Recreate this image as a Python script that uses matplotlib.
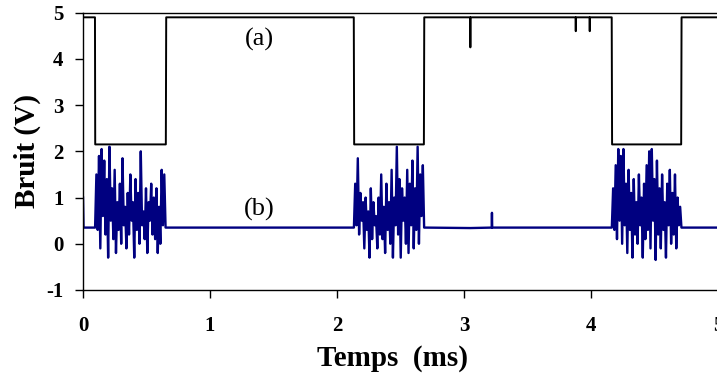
import numpy as np
import matplotlib
matplotlib.use("Agg")
import matplotlib.pyplot as plt

plt.rcParams['font.family'] = ['Liberation Serif', 'DejaVu Serif']
plt.rcParams['axes.unicode_minus'] = False

# ---- trace (a): square wave (time ms, volts)
a_t = [0.0, 0.094, 0.096, 0.652, 0.655, 2.132, 2.135, 2.684, 2.687, 3.048, 3.050, 3.052,
       3.878, 3.880, 3.882, 3.988, 3.990, 3.992, 4.163, 4.166, 4.710, 4.713, 5.0]
a_v = [4.90, 4.90, 2.15, 2.15, 4.90, 4.90, 2.15, 2.15, 4.90, 4.90, 4.25, 4.90,
       4.90, 4.60, 4.90, 4.90, 4.60, 4.90, 4.90, 2.15, 2.15, 4.90, 4.90]

# ---- trace (b): noise bursts during the low periods
burst1_span = (0.095, 0.650)
burst1 = [0.35, 1.50, 0.30, 1.90, -0.10, 2.05, 0.60, 1.80, 0.20, 1.40, -0.30, 2.10, 0.50,
          1.20, 0.10, 1.60, -0.20, 0.90, 0.30, 1.30, 0.00, 1.85, 0.40, 0.80, -0.10, 1.10,
          0.20, 1.50, 0.50, 0.90, -0.30, 1.40, 0.30, 1.10, 0.00, 2.00, 0.40, 0.70, 0.10,
          1.20, -0.20, 0.90, 0.50, 1.30, 0.20, 1.00, 0.10, 1.20, -0.20, 0.80, 0.00, 1.60,
          0.40, 1.50, 0.35]
burst2_span = (2.133, 2.686)
burst2 = [0.35, 1.30, 0.40, 1.85, 0.20, 1.10, 0.50, 0.90, -0.10, 1.00, 0.30, 0.70, -0.30,
          1.20, 0.10, 0.90, 0.40, 0.60, -0.10, 1.00, 0.20, 1.50, 0.10, 0.80, -0.20, 1.30,
          0.30, 0.90, 0.00, 1.60, -0.30, 1.00, 0.40, 2.10, 0.20, 1.40, -0.30, 1.20, 0.50,
          1.00, 0.00, 1.60, -0.20, 1.30, 0.40, 1.80, -0.10, 1.20, 0.30, 2.10, 0.00, 1.50,
          0.60, 1.70, 0.35]
burst3_span = (4.164, 4.712)
burst3 = [0.35, 1.20, 0.30, 1.70, 0.10, 2.05, 0.50, 1.90, 0.00, 2.05, 0.40, 1.30, -0.20,
          1.60, 0.30, 1.10, -0.30, 1.40, 0.20, 0.90, 0.00, 1.50, 0.40, 1.00, -0.30, 1.30,
          0.10, 1.70, 0.30, 2.00, -0.10, 2.05, 0.50, 1.40, -0.35, 1.80, 0.20, 1.20, -0.10,
          1.50, 0.30, 0.90, -0.30, 1.30, 0.40, 1.60, 0.00, 1.10, 0.20, 1.50, -0.10, 1.00,
          0.40, 0.80, 0.35]
# baseline samples outside the bursts
base_t = [0.0, 0.004, 0.09, 0.66, 1.20, 2.12, 2.70, 3.05, 3.218, 3.220, 3.222, 3.80, 4.15, 4.72, 5.0]
base_v = [1.00, 0.35, 0.35, 0.35, 0.35, 0.35, 0.35, 0.34, 0.35, 0.67, 0.35, 0.35, 0.35, 0.35, 0.35]

bursts = [(burst1_span, burst1), (burst2_span, burst2), (burst3_span, burst3)]
pts = list(zip(base_t, base_v))
for (t0, t1), vals in bursts:
    ts = np.linspace(t0, t1, len(vals))
    pts += list(zip(ts, vals))
pts.sort(key=lambda p: p[0])
b_t = [p[0] for p in pts]
b_v = [p[1] for p in pts]

fig = plt.figure(figsize=(7.17, 3.85), dpi=100)
ax = fig.add_axes([0.1158, 0.2468, 0.8856, 0.7202])
ax.plot(a_t, a_v, color='black', lw=1.4)
ax.plot(b_t, b_v, color='#000080', lw=1.7)

ax.set_xlim(0, 5)
ax.set_ylim(-1, 5)
ax.set_xticks([0, 1, 2, 3, 4, 5])
ax.set_yticks([-1, 0, 1, 2, 3, 4, 5])
ax.spines['right'].set_visible(False)
for s in ['left', 'bottom', 'top']:
    ax.spines[s].set_linewidth(1.0)
ax.tick_params(axis='x', direction='out', length=6, width=1, pad=13, labelsize=15)
ax.tick_params(axis='y', direction='out', length=6, width=1, pad=8, labelsize=15)
for lab in ax.get_xticklabels() + ax.get_yticklabels():
    lab.set_fontweight('bold')

ax.set_ylabel('Bruit (V)', fontsize=21, fontweight='bold')
ax.yaxis.set_label_coords(-0.066, 0.5)
ax.set_xlabel('Temps  (ms)', fontsize=21, fontweight='bold')
ax.xaxis.set_label_coords(0.488, -0.2)

ax.text(1.39, 4.42, '(a)', fontsize=19, ha='center', va='center')
ax.text(1.39, 0.74, '(b)', fontsize=19, ha='center', va='center')

fig.savefig('out.png', dpi=100)
